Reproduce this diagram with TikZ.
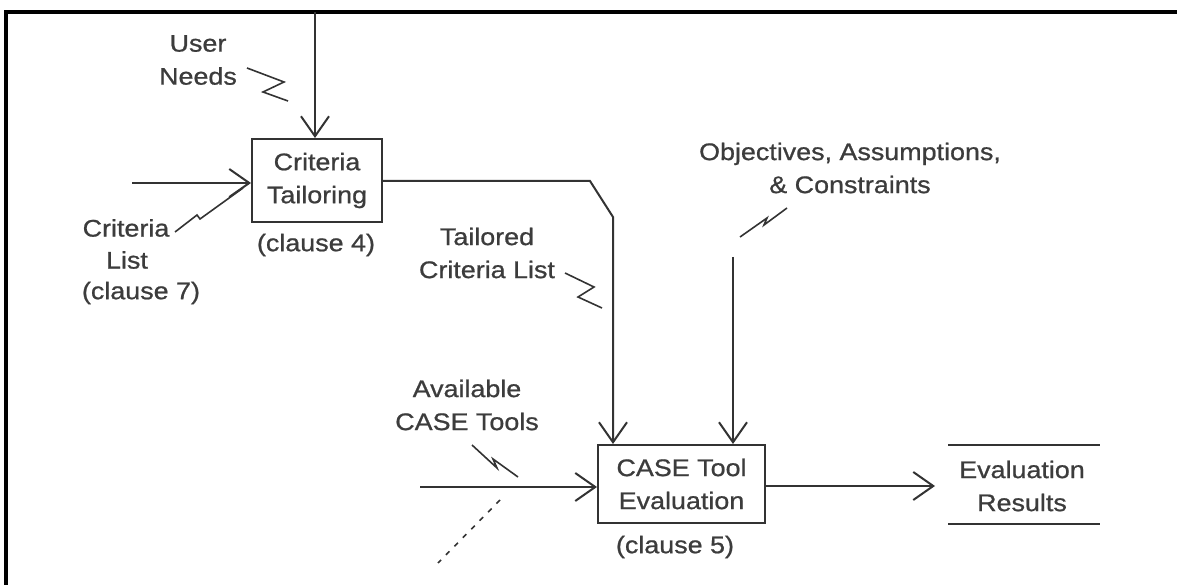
\documentclass[tikz,border=0pt]{standalone}
\usepackage{fontspec}
\setmainfont{Liberation Sans}[FakeStretch=1.12,FakeBold=0.8]
\usetikzlibrary{arrows.meta}
\definecolor{ink}{HTML}{333333}
\definecolor{txt}{HTML}{3C3C3C}
\tikzset{
  wire/.style={draw=ink, line width=2pt, -{Straight Barb[length=20pt,width=28pt]}},
  plainwire/.style={draw=ink, line width=2.2pt},
  zig/.style={draw=ink, line width=1.6pt, line join=miter},
  lbl/.style={text=txt, align=center, inner sep=0pt, font=\fontsize{24}{33}\selectfont},
  procbox/.style={draw=ink, line width=2pt, text=txt, align=center, inner sep=0pt, font=\fontsize{24}{33}\selectfont}
}
\begin{document}
\begin{tikzpicture}[x=1pt,y=-1pt]
\useasboundingbox (0,0) rectangle (1177,585);
% frame (top and left edges of the cell)
\draw[black, line width=4pt] (6,585) -- (6,12) -- (1177,12);

% process boxes
\node[procbox, minimum width=130pt, minimum height=83pt] (ct) at (317,180.5) {Criteria\\Tailoring};
\node[procbox, minimum width=167pt, minimum height=78pt] (ce) at (681.5,484) {CASE Tool\\Evaluation};

% labels
\node[lbl] (c4) at (316,245) {(clause 4)};
\node[lbl] (c5) at (675,547) {(clause 5)};
\node[lbl] (un) at (198,60) {User\\Needs};
\node[lbl] (cl1) at (126,228) {Criteria};
\node[lbl] (cl2) at (127,260) {List};
\node[lbl] (cl3) at (141,293) {(clause 7)};
\node[lbl] (tc) at (487,253) {Tailored\\Criteria List};
\node[lbl] (ob) at (850,168) {Objectives, Assumptions,\\\& Constraints};
\node[lbl] (av) at (467,405) {Available\\CASE Tools};
\node[lbl] (er) at (1022,486) {Evaluation\\Results};

% result bars
\coordinate (rtl) at (948,445); \coordinate (rtr) at (1100,445);
\coordinate (rbl) at (948,524); \coordinate (rbr) at (1100,524);
\draw[plainwire] (rtl) -- (rtr);
\draw[plainwire] (rbl) -- (rbr);

% connectors
\coordinate (untop) at (315,12);
\draw[wire] (untop) -- (untop |- ct.north);
\coordinate (clin) at (132,183);
\draw[wire] (clin) -- (clin -| ct.west);
\coordinate (b1) at (590,181);
\coordinate (b2) at (613,217);
\draw[wire] (ct.east |- b1) -- (b1) -- (b2) -- (b2 |- ce.north);
\coordinate (obin) at (733,257);
\draw[wire] (obin) -- (obin |- ce.north);
\coordinate (avin) at (420,487);
\draw[wire] (avin) -- (avin -| ce.west);
\coordinate (erin) at (935,486);
\draw[wire] (ce.east |- erin) -- (erin);

% squiggles
\draw[zig] (247,68) -- (284,82) -- (263,92) -- (288,101);
\draw[zig] (175,232) -- (197,215) -- (200,219) -- (243,188);
\draw[zig] (565,273) -- (594,287) -- (578,297) -- (602,308);
\draw[zig] (740,237) -- (767,218) -- (764,225) -- (787,208);
\draw[zig] (472,445) -- (497,468) -- (493,459) -- (518,477);
\draw[zig, dash pattern=on 5pt off 7pt] (500,500) -- (438,563);
\end{tikzpicture}
\end{document}
